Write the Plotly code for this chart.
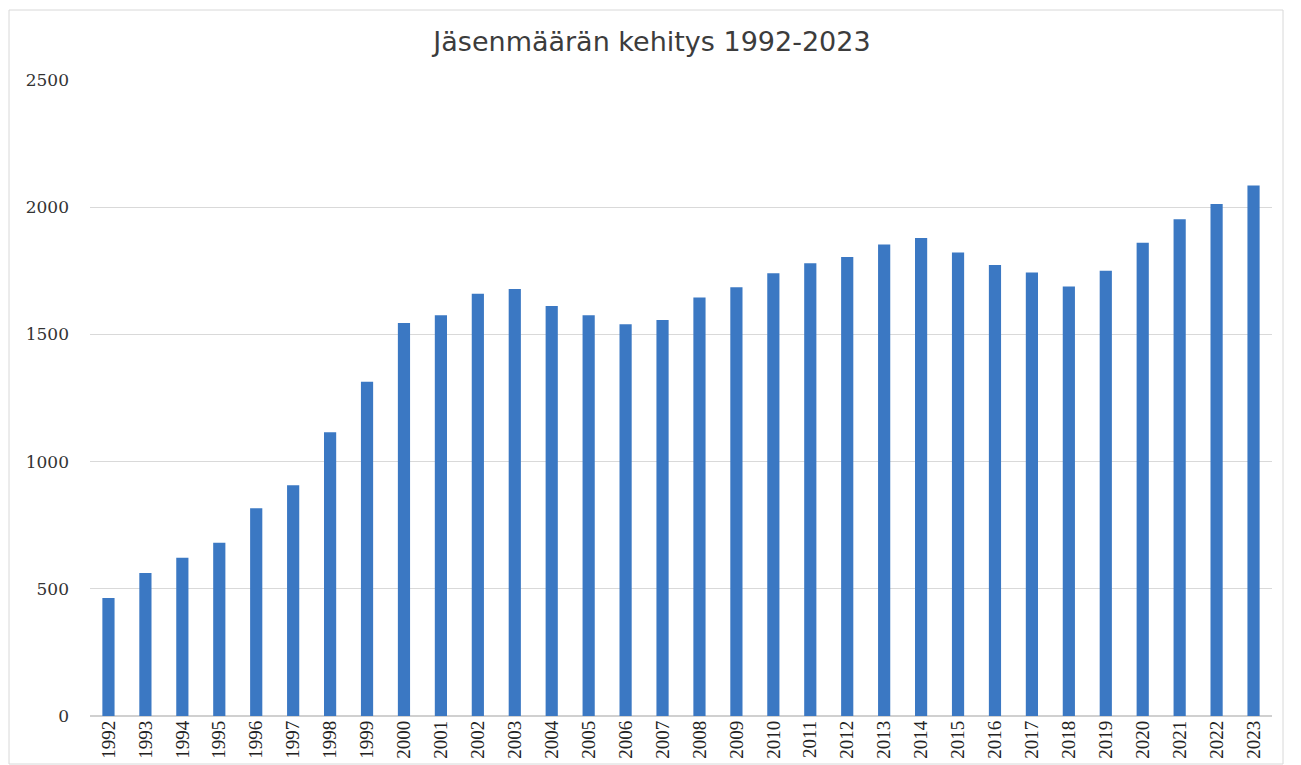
import plotly.graph_objects as go

years = [str(y) for y in range(1992, 2024)]
members = [464, 562, 622, 681, 817, 907, 1115, 1314, 1545, 1575, 1660, 1678,
           1612, 1575, 1540, 1557, 1645, 1685, 1740, 1780, 1804, 1853, 1879,
           1822, 1773, 1743, 1688, 1750, 1860, 1953, 2013, 2085]
y_ticks = [0, 500, 1000, 1500, 2000, 2500]

OFF = 8  # page body margin
W, H = 1301 - OFF, 765 - OFF
ml, mr, mt, mb = 90 - OFF, 29, 80 - OFF, 49
pw, ph = W - ml - mr, H - mt - mb

fig = go.Figure(go.Bar(x=years, y=members, marker_color="#3b78c3",
                       marker_line_width=0))

def px_x(p):
    return (p - OFF - ml) / pw

def px_y(p):
    return (OFF + mt + ph - p) / ph

fig.add_shape(type="rect", xref="paper", yref="paper",
              x0=px_x(9), x1=px_x(1283), y0=px_y(764), y1=px_y(10),
              line=dict(color="#d8d8d8", width=1), layer="below")

fig.update_layout(
    width=W, height=H,
    margin=dict(l=ml, r=mr, t=mt, b=mb, autoexpand=False),
    paper_bgcolor="white", plot_bgcolor="white",
    bargap=0.67,
    showlegend=False,
    title=dict(text="Jäsenmäärän kehitys 1992-2023", x=px_x(652), xanchor="center",
               xref="paper", y=1 - (42 - OFF) / H, yanchor="middle",
               font=dict(family="DejaVu Sans", size=27, color="#3c3c3c")),
    xaxis=dict(type="category", tickangle=-90, showgrid=False,
               tickfont=dict(family="Liberation Serif", size=19, color="#222"),
               showline=False, ticks="", automargin=False),
    yaxis=dict(range=[0, 2500], tickvals=y_ticks, showgrid=True,
               gridcolor="#d9d9d9", gridwidth=1, zeroline=True,
               zerolinecolor="#d0d0d0", ticks="", ticklabelstandoff=20,
               automargin=False,
               tickfont=dict(family="DejaVu Serif", size=17, color="#333")),
)

fig.write_html("out.html")
